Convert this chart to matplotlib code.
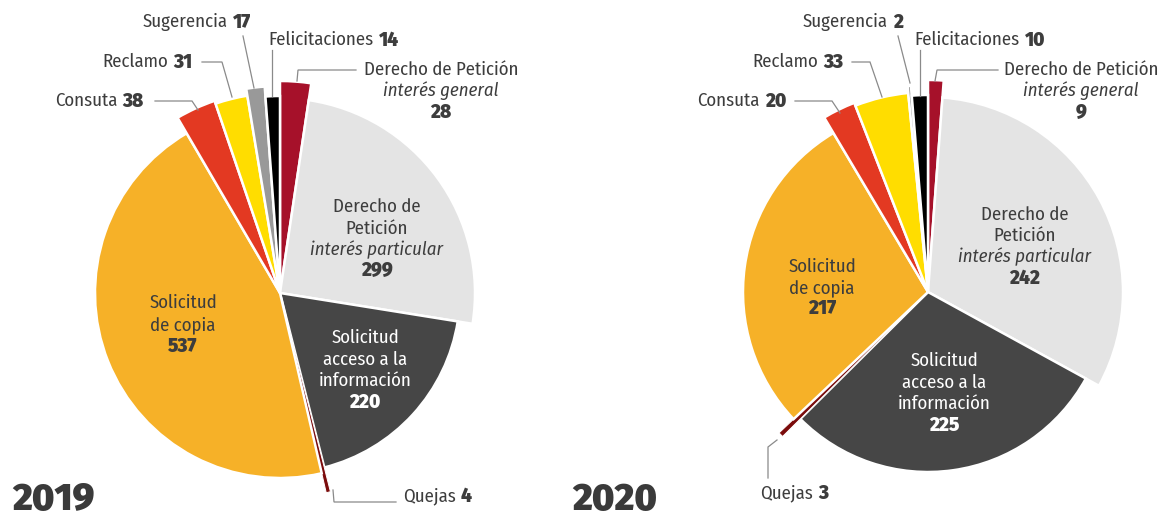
import matplotlib
matplotlib.use("Agg")
import matplotlib.pyplot as plt

# data
categorias = ['Derecho de Petición interés general', 'Derecho de Petición interés particular',
              'Solicitud acceso a la información', 'Quejas', 'Solicitud de copia',
              'Consuta', 'Reclamo', 'Sugerencia', 'Felicitaciones']
valores_2019 = [28, 299, 220, 4, 537, 38, 31, 17, 14]
valores_2020 = [9, 242, 225, 3, 217, 20, 33, 2, 10]
anios = ['2019', '2020']

colores = ['#A6112A', '#E4E4E4', '#464646', '#7B0C0C', '#F6B128',
           '#E33922', '#FFDD00', '#999999', '#000000']
radios = [212, 195, 180, 205, 185, 203, 200, 207, 197]

W, H = 1162, 512
WORD = ['Fira Sans Condensed', 'DejaVu Sans']
NUM = ['Fira Sans', 'DejaVu Sans']
TXT = '#3d3d3d'
LINE = '#8a8a8a'


def Y(y):
    return H - y


fig = plt.figure(figsize=(W / 100, H / 100), dpi=100)
ax = fig.add_axes([0, 0, 1, 1])

centros = [(280, Y(293)), (928, Y(292))]
for vals, c in zip([valores_2019, valores_2020], centros):
    wedges, _ = ax.pie(vals, colors=colores, startangle=90, counterclock=False,
                       center=c, radius=1,
                       wedgeprops=dict(edgecolor='white', linewidth=1.8))
    for w, r in zip(wedges, radios):
        w.set_radius(r)
    # thin slice: thinner white edge so it stays visible
    wedges[3].set_linewidth(0.7)

ax.set_xlim(0, W)
ax.set_ylim(0, H)
ax.set_aspect('equal')
ax.axis('off')


def etiqueta(xs, y, palabra, num):
    ax.text(xs, Y(y), palabra, ha='right', va='center', fontsize=13.5,
            family=WORD, color=TXT)
    ax.text(xs + 5, Y(y), str(num), ha='left', va='center', fontsize=13.5,
            family=NUM, fontweight=900, color=TXT)


def linea(pts):
    ax.plot([p[0] for p in pts], [Y(p[1]) for p in pts], color=LINE, lw=0.9,
            solid_joinstyle='miter')


def bloque(x, ys, lineas, num, color, estilos):
    for yy, t, st in zip(ys[:-1], lineas, estilos):
        ax.text(x, Y(yy), t, ha='center', va='center', fontsize=13.5,
                family=WORD, style=st, color=color)
    ax.text(x, Y(ys[-1]), str(num), ha='center', va='center', fontsize=13.5,
            family=NUM, fontweight=900, color=color)


# 2019
v = valores_2019
etiqueta(228, 22, 'Sugerencia', v[7])
etiqueta(374, 40, 'Felicitaciones', v[8])
etiqueta(168, 62, 'Reclamo', v[6])
etiqueta(117, 101, 'Consuta', v[5])
etiqueta(456, 496, 'Quejas', v[3])
bloque(441, [70, 91, 112], ['Derecho de Petición', 'interés general'], v[0], TXT,
       ['normal', 'italic'])
bloque(377, [207, 229, 250, 270], ['Derecho de', 'Petición', 'interés particular'], v[1],
       TXT, ['normal', 'normal', 'italic'])
bloque(183, [303, 325, 346], ['Solicitud', 'de copia'], v[4], TXT, ['normal'] * 2)
bloque(365, [338, 360, 381, 402], ['Solicitud', 'acceso a la', 'información'], v[2],
       'white', ['normal'] * 3)
linea([(155, 101), (192, 101), (198, 110)])
linea([(202, 62), (222, 62), (232, 97)])
linea([(243, 36), (254, 88)])
linea([(272, 50), (272, 96)])
linea([(297, 81), (298, 70), (356, 70)])
linea([(333, 490), (334, 502), (396, 502)])

# 2020
v = valores_2020
etiqueta(888, 22, 'Sugerencia', v[7])
etiqueta(1020, 40, 'Felicitaciones', v[8])
etiqueta(818, 62, 'Reclamo', v[6])
etiqueta(760, 101, 'Consuta', v[5])
etiqueta(813, 493, 'Quejas', v[3])
bloque(1081, [70, 91, 112], ['Derecho de Petición', 'interés general'], v[0], TXT,
       ['normal', 'italic'])
bloque(1025, [215, 236, 257, 278], ['Derecho de', 'Petición', 'interés particular'], v[1],
       TXT, ['normal', 'normal', 'italic'])
bloque(822, [267, 288, 308], ['Solicitud', 'de copia'], v[4], TXT, ['normal'] * 2)
bloque(944, [361, 383, 404, 425], ['Solicitud', 'acceso a la', 'información'], v[2],
       'white', ['normal'] * 3)
linea([(795, 101), (832, 101), (840, 113)])
linea([(852, 62), (870, 62), (882, 97)])
linea([(898, 36), (910, 83)])
linea([(920, 50), (920, 96)])
linea([(935, 81), (937, 70), (998, 70)])
linea([(777, 440), (768, 447), (768, 478)])

# years
for anio, x in zip(anios, [12, 572]):
    ax.text(x, Y(510), anio, ha='left', va='baseline', fontsize=27,
            family=NUM, fontweight=900, color='#3a3a3a')

fig.savefig('out.png', dpi=100)
